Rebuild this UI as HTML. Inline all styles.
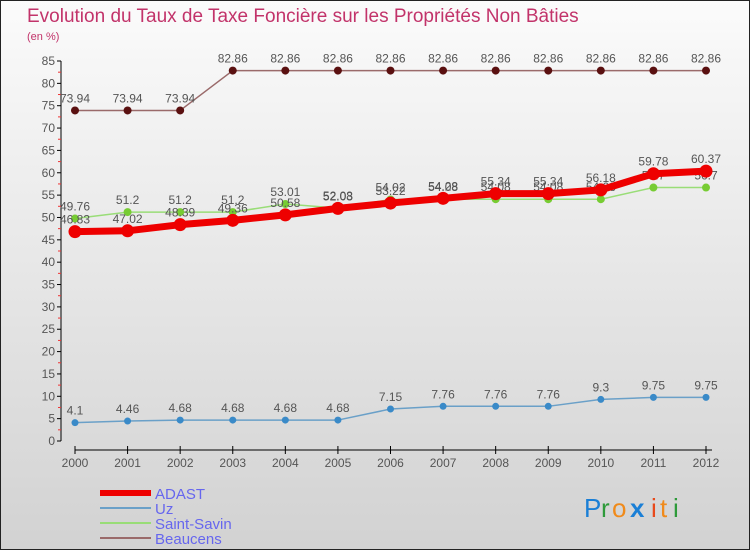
<!DOCTYPE html>
<html><head><meta charset="utf-8"><style>
html,body{margin:0;padding:0;}
body{width:750px;height:550px;overflow:hidden;font-family:"Liberation Sans",sans-serif;}
</style></head><body>
<svg id="chart" width="750" height="550" xmlns="http://www.w3.org/2000/svg">
<defs><linearGradient id="bg" x1="0" y1="0" x2="0" y2="1"><stop offset="0" stop-color="#fbfbfb"/><stop offset="1" stop-color="#d2d2d2"/></linearGradient></defs>
<rect x="0.5" y="0.5" width="749" height="549" fill="url(#bg)" stroke="#222"/>
<text x="27" y="22" font-size="19" fill="#c2336a">Evolution du Taux de Taxe Foncière sur les Propriétés Non Bâties</text>
<text x="27" y="40" font-size="11" fill="#c2336a">(en %)</text>
<g id="axes"></g>
<g id="series"></g>
<g id="legend"></g>
<g font-size="26">
<text x="584" y="517" fill="#1a7fd6">P</text><text x="601" y="517" fill="#2e9a3a">r</text><text x="612" y="517" fill="#f08a1a">o</text><text x="630" y="517" fill="#1a7fd6" font-weight="bold">x</text><text x="651" y="517" fill="#e8491b">i</text><text x="660" y="517" fill="#f08a1a">t</text><text x="673" y="517" fill="#2e9a3a">i</text>
</g>
</svg>
<script>
const years=[2000,2001,2002,2003,2004,2005,2006,2007,2008,2009,2010,2011,2012];
const adast=[46.83,47.02,48.39,49.36,50.58,52.03,53.22,54.28,55.34,55.34,56.18,59.78,60.37];
const uz=[4.1,4.46,4.68,4.68,4.68,4.68,7.15,7.76,7.76,7.76,9.3,9.75,9.75];
const saintSavin=[49.76,51.2,51.2,51.2,53.01,52.08,54.02,54.08,54.08,54.08,54.08,56.7,56.7];
const beaucens=[73.94,73.94,73.94,82.86,82.86,82.86,82.86,82.86,82.86,82.86,82.86,82.86,82.86];
const yTicks=[0,5,10,15,20,25,30,35,40,45,50,55,60,65,70,75,80,85];
const NS="http://www.w3.org/2000/svg";
const X=i=>75+i*(706-75)/(years.length-1);
const Y=v=>441-v*(441-61)/85;
function mk(tag,attrs,parent){const e=document.createElementNS(NS,tag);for(const k in attrs)e.setAttribute(k,attrs[k]);parent.appendChild(e);return e;}
const axes=document.getElementById('axes');
let yl=mk('line',{x1:61,y1:61,x2:61,y2:441,stroke:'#000'},axes);


yTicks.forEach(t=>{
  mk('line',{x1:57,y1:Y(t),x2:61,y2:Y(t),stroke:'#000'},axes);
  if(t<85)mk('line',{x1:58,y1:Y(t+2.5),x2:61,y2:Y(t+2.5),stroke:'#e33'},axes);
  const tx=mk('text',{x:55,y:Y(t)+4,'font-size':12,fill:'#555','text-anchor':'end'},axes);
  tx.textContent=t;
  
  
});
let xl=mk('line',{x1:75,y1:450,x2:712,y2:450,stroke:'#000'},axes);


years.forEach((yr,i)=>{
  mk('line',{x1:X(i),y1:446,x2:X(i),y2:454,stroke:'#000'},axes);
  const tx=mk('text',{x:X(i),y:467,'font-size':12,fill:'#555','text-anchor':'middle'},axes);
  tx.textContent=yr;
  
  
});
const sg=document.getElementById('series');
function series(vals,name,color,w,r,dotColor,labelDy){
  const g=mk('g',{},sg);
  
  
  const pl=mk('polyline',{points:vals.map((v,i)=>X(i)+','+Y(v)).join(' '),fill:'none',stroke:color,'stroke-width':w,'stroke-linejoin':'round'},g);
  
  
  vals.forEach((v,i)=>{
    const c=mk('circle',{cx:X(i),cy:Y(v),r:r,fill:dotColor},g);
    
    
    const t=mk('text',{x:X(i),y:Y(v)+labelDy,'font-size':12,fill:'#555','text-anchor':'middle'},g);
    t.textContent=v;
    
    
  });
}
series(beaucens,'beaucens','#9a6a6a',1.5,4,'#5a1010',-8);
series(uz,'uz','#6aa0c8',1.5,3.5,'#3a8ac8',-8);
series(saintSavin,'saint-savin','#99dd77',1.5,4,'#77cc33',-8);
series(adast,'adast','#ee0000',7,6.5,'#ee0000',-8);
const lg=document.getElementById('legend');
const items=[['ADAST','#ee0000',6],['Uz','#6aa0c8',2],['Saint-Savin','#99dd77',2],['Beaucens','#9a6a6a',2]];
items.forEach((it,i)=>{
  const y=493+i*15;
  const l=mk('line',{x1:100,y1:y,x2:151,y2:y,stroke:it[1],'stroke-width':it[2]},lg);
  
  
  const t=mk('text',{x:155,y:y+6,'font-size':15,fill:'#6666ee'},lg);
  t.textContent=it[0];
  
  
});
</script>
</body></html>
